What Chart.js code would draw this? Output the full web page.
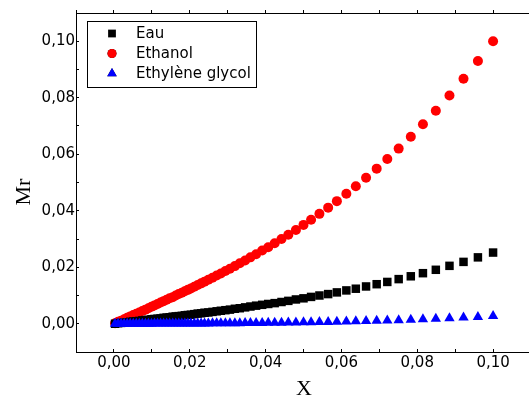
<!DOCTYPE html>
<html>
<head>
<meta charset="utf-8">
<script src="https://cdn.jsdelivr.net/npm/chart.js@4.4.0/dist/chart.umd.min.js"></script>
<style>
  html, body { margin: 0; padding: 0; background: #fff; overflow: hidden; }
  #wrap { width: 540px; height: 398px; }
</style>
</head>
<body>
<div id="wrap"><canvas id="chart" width="540" height="398"></canvas></div>
<script>
// X values (dense near 0, wider toward 0,10)
const xValues = [
  0.1000, 0.0960, 0.0922, 0.0885, 0.0849, 0.0815, 0.0783, 0.0751, 0.0721, 0.0693,
  0.0665, 0.0638, 0.0613, 0.0588, 0.0565, 0.0542, 0.0520, 0.0500, 0.0480, 0.0460,
  0.0442, 0.0424, 0.0407, 0.0391, 0.0375, 0.0360, 0.0346, 0.0332, 0.0319, 0.0306,
  0.0294, 0.0282, 0.0271, 0.0260, 0.0249, 0.0239, 0.0230, 0.0221, 0.0212, 0.0203,
  0.0195, 0.0187, 0.0179, 0.0171, 0.0163, 0.0155, 0.0147, 0.0139, 0.0131, 0.0123,
  0.0115, 0.0107, 0.0099, 0.0091, 0.0083, 0.0075, 0.0067, 0.0059, 0.0051, 0.0043,
  0.0035, 0.0027, 0.0019, 0.0011, 0.0003
];

const eau = [
  0.0252, 0.0235, 0.0219, 0.0205, 0.0191, 0.0179, 0.0168, 0.0158, 0.0148, 0.0140,
  0.0132, 0.0124, 0.0118, 0.0111, 0.0105, 0.0100, 0.0095, 0.0090, 0.0086, 0.0081,
  0.0077, 0.0073, 0.0070, 0.0067, 0.0064, 0.0061, 0.0058, 0.0055, 0.0053, 0.0050,
  0.0048, 0.0046, 0.0044, 0.0042, 0.0040, 0.0039, 0.0037, 0.0036, 0.0034, 0.0032,
  0.0031, 0.0030, 0.0028, 0.0027, 0.0026, 0.0025, 0.0023, 0.0022, 0.0021, 0.0019,
  0.0018, 0.0017, 0.0016, 0.0014, 0.0013, 0.0012, 0.0010, 0.0009, 0.0008, 0.0007,
  0.0005, 0.0004, 0.0003, 0.0002, 0.0000
];

const ethanol = [
  0.1000, 0.0930, 0.0867, 0.0808, 0.0754, 0.0706, 0.0662, 0.0620, 0.0583, 0.0549,
  0.0517, 0.0487, 0.0460, 0.0434, 0.0411, 0.0389, 0.0368, 0.0350, 0.0332, 0.0315,
  0.0300, 0.0285, 0.0271, 0.0259, 0.0246, 0.0235, 0.0224, 0.0214, 0.0204, 0.0195,
  0.0187, 0.0178, 0.0171, 0.0163, 0.0156, 0.0149, 0.0143, 0.0137, 0.0131, 0.0125,
  0.0120, 0.0115, 0.0110, 0.0105, 0.0100, 0.0094, 0.0090, 0.0085, 0.0080, 0.0075,
  0.0070, 0.0065, 0.0060, 0.0055, 0.0050, 0.0045, 0.0040, 0.0035, 0.0031, 0.0026,
  0.0021, 0.0016, 0.0011, 0.0007, 0.0002
];

const glycol = [
  0.00270, 0.00242, 0.00217, 0.00195, 0.00175, 0.00157, 0.00142, 0.00127, 0.00115, 0.00104,
  0.00094, 0.00085, 0.00078, 0.00070, 0.00064, 0.00058, 0.00053, 0.00049, 0.00045, 0.00041,
  0.00038, 0.00035, 0.00032, 0.00029, 0.00027, 0.00025, 0.00023, 0.00022, 0.00020, 0.00019,
  0.00018, 0.00017, 0.00015, 0.00014, 0.00013, 0.00013, 0.00012, 0.00011, 0.00011, 0.00010,
  0.00010, 0.00009, 0.00008, 0.00008, 0.00008, 0.00007, 0.00007, 0.00006, 0.00006, 0.00005,
  0.00005, 0.00005, 0.00004, 0.00004, 0.00003, 0.00003, 0.00003, 0.00002, 0.00002, 0.00002,
  0.00001, 0.00001, 0.00001, 0.00000, 0.00000
];

const seriesNames = ['Eau', 'Ethanol', 'Ethylène glycol'];
const tickLabelFont = { family: 'DejaVu Sans', size: 15 };

const toPoints = ys => xValues.map((x, i) => ({ x: x, y: ys[i] }));

// comma decimal labels at every 0,02, blank at the minor ticks
const commaLabel = v => {
  const n = Math.round(v * 100);
  if (n < 0 || n > 10 || n % 2 !== 0) return '';
  return (n / 100).toFixed(2).replace('.', ',');
};

// legend box and axis titles drawn by hand
const extras = {
  id: 'extras',
  afterDraw(chart) {
    const ctx = chart.ctx;
    ctx.save();

    // legend
    ctx.fillStyle = '#fff';
    ctx.fillRect(87.5, 21.5, 169, 66);
    ctx.strokeStyle = '#000';
    ctx.lineWidth = 1;
    ctx.strokeRect(87.5, 21.5, 169, 66);
    ctx.font = '15px "DejaVu Sans", sans-serif';
    ctx.textBaseline = 'middle';
    ctx.textAlign = 'left';
    chart.data.datasets.forEach((ds, i) => {
      const y = 33.5 + i * 20;
      Chart.helpers.drawPoint(ctx, {
        pointStyle: ds.pointStyle,
        radius: ds.legendRadius,
        borderWidth: 0,
        rotation: 0
      }, 112, y);
      ctx.fillStyle = ds.backgroundColor;
      ctx.fill();
      ctx.fillStyle = '#000';
      ctx.fillText(ds.label, 136, y + 1);
    });

    // axis titles
    ctx.font = '22px "Liberation Serif", "Times New Roman", serif';
    ctx.fillStyle = '#000';
    ctx.textAlign = 'center';
    ctx.textBaseline = 'middle';
    ctx.fillText('X', 304, 389);
    ctx.translate(24, 192);
    ctx.rotate(-Math.PI / 2);
    ctx.fillText('Mr', 0, 0);
    ctx.restore();
  }
};

// bottom/left ticks point inward, top ticks outward
const inGrid = { drawOnChartArea: false, tickLength: -3, tickColor: '#000', tickWidth: 1 };
const outGrid = { drawOnChartArea: false, tickLength: 3, tickColor: '#000', tickWidth: 1 };
const axisBorder = { color: '#000', width: 1 };

new Chart(document.getElementById('chart'), {
  type: 'scatter',
  data: {
    datasets: [
      {
        label: seriesNames[0],
        data: toPoints(eau),
        pointStyle: 'rect',
        pointRadius: 6,
        legendRadius: 5.5,
        backgroundColor: '#000000',
        borderColor: '#000000',
        pointBorderWidth: 0,
        order: 1
      },
      {
        label: seriesNames[1],
        data: toPoints(ethanol),
        pointStyle: 'circle',
        pointRadius: 5,
        legendRadius: 4.5,
        backgroundColor: '#ff0000',
        borderColor: '#ff0000',
        pointBorderWidth: 0,
        order: 2
      },
      {
        label: seriesNames[2],
        data: toPoints(glycol),
        pointStyle: 'triangle',
        pointRadius: 6,
        legendRadius: 5.5,
        backgroundColor: '#0000ff',
        borderColor: '#0000ff',
        pointBorderWidth: 0,
        order: 0
      }
    ]
  },
  options: {
    responsive: false,
    animation: false,
    devicePixelRatio: 1,
    layout: { padding: { left: 0, right: 9, top: 0, bottom: 0 } },
    plugins: {
      legend: { display: false },
      tooltip: { enabled: false }
    },
    scales: {
      x: {
        type: 'linear',
        position: 'bottom',
        min: -0.01,
        max: 0.11,
        grid: inGrid,
        border: axisBorder,
        ticks: {
          stepSize: 0.01,
          autoSkip: false,
          maxRotation: 0,
          padding: 5,
          color: '#000',
          font: tickLabelFont,
          callback: commaLabel
        },
        afterFit(s) { s.height = 46; }
      },
      x2: {
        type: 'linear',
        position: 'top',
        min: -0.01,
        max: 0.11,
        grid: outGrid,
        border: axisBorder,
        ticks: { stepSize: 0.01, display: false },
        afterFit(s) { s.height = 13; }
      },
      y: {
        type: 'linear',
        position: 'left',
        min: -0.01,
        max: 0.11,
        grid: inGrid,
        border: axisBorder,
        ticks: {
          stepSize: 0.01,
          autoSkip: false,
          padding: 4,
          color: '#000',
          font: tickLabelFont,
          callback: commaLabel
        },
        afterFit(s) { s.width = 76; }
      }
    }
  },
  plugins: [extras]
});
</script>
</body>
</html>
